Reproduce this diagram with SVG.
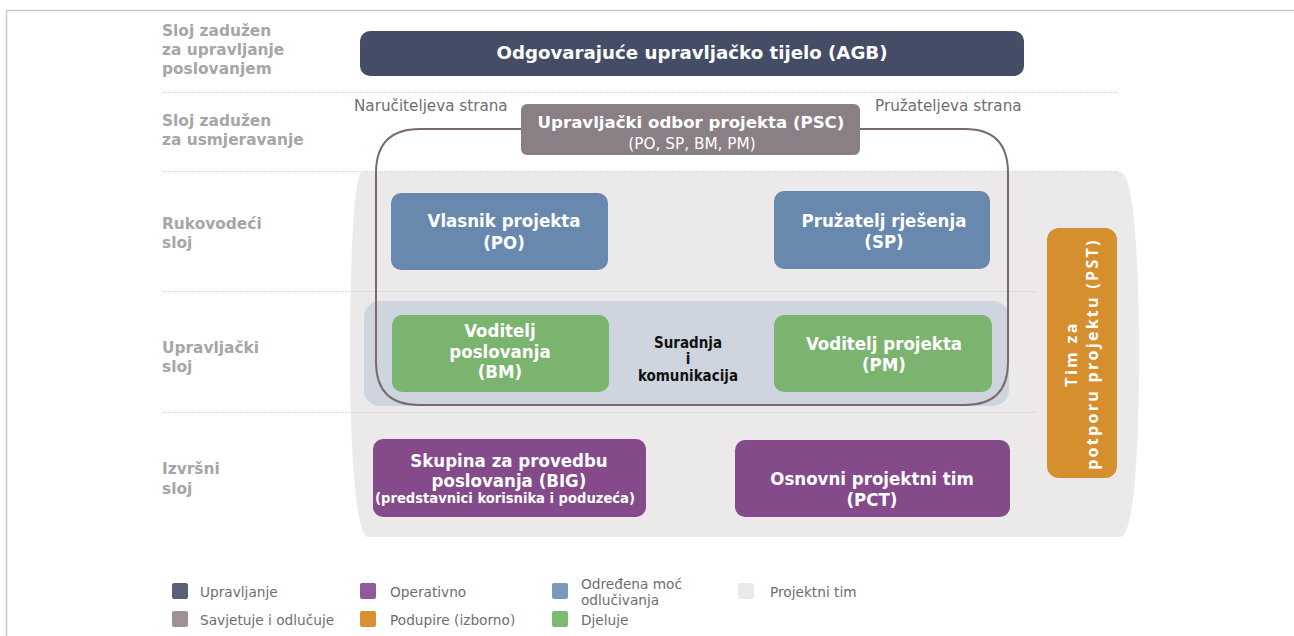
<svg xmlns="http://www.w3.org/2000/svg" width="1294" height="636" viewBox="0 0 1294 636">
  <style>
    .layer { font-family: "DejaVu Sans", Verdana, sans-serif; font-weight: bold; font-size: 15.4px; fill: #a6a6a6; }
    .sep { stroke: #d6d6d6; stroke-width: 1; stroke-dasharray: 2 1; fill: none; }
    .side { font-family: "DejaVu Sans", Verdana, sans-serif; font-size: 15.2px; fill: #6e6e6e; }
    .nt { font-family: "DejaVu Sans Condensed", "DejaVu Sans", sans-serif; font-weight: bold; font-size: 18.5px; fill: #ffffff; text-anchor: middle; }
    .small { font-size: 14.6px; }
    .cc { fill: #111111; font-size: 15px; }
    .vt { font-family: "Open Sans", sans-serif; font-size: 16px; letter-spacing: 2.3px; }
    .leg { font-family: "DejaVu Sans", Verdana, sans-serif; font-size: 13.7px; fill: #6e6e6e; }
    .gov { fill: #454c66; }
    .adv { fill: #8b7f86; }
    .dec { fill: #6889ad; }
    .act { fill: #7bb46e; }
    .ops { fill: #844a8a; }
    .sup { fill: #d68f2f; }
  </style>

  <!-- page frame -->
  <rect x="6.5" y="10.5" width="1300" height="700" fill="#ffffff" stroke="#c8c8c8" stroke-width="1.5"/>

  <!-- project team backdrop -->
  <path d="M 362 172 H 1120 C 1134 172 1139 260 1139 355 C 1139 450 1134 537 1120 537 H 368 C 356 537 350 450 350 355 C 350 260 354 172 362 172 Z" fill="#ebe9ea"/>

  <!-- layer separators -->
  <g id="separators">
    <line class="sep" x1="162" y1="92.5" x2="1118" y2="92.5"/>
    <line class="sep" x1="162" y1="171.5" x2="1118" y2="171.5"/>
    <line class="sep" x1="162" y1="291.5" x2="1036" y2="291.5"/>
    <line class="sep" x1="162" y1="412.5" x2="1036" y2="412.5"/>
  </g>

  <!-- layer names -->
  <g id="layers">
    <text class="layer" x="162" y="36">Sloj zadužen</text>
    <text class="layer" x="162" y="55">za upravljanje</text>
    <text class="layer" x="162" y="74">poslovanjem</text>
    <text class="layer" x="162" y="126">Sloj zadužen</text>
    <text class="layer" x="162" y="145">za usmjeravanje</text>
    <text class="layer" x="162" y="229">Rukovodeći</text>
    <text class="layer" x="162" y="248">sloj</text>
    <text class="layer" x="162" y="353">Upravljački</text>
    <text class="layer" x="162" y="372">sloj</text>
    <text class="layer" x="162" y="474">Izvršni</text>
    <text class="layer" x="162" y="494">sloj</text>
  </g>

  <!-- collaboration band -->
  <rect x="364" y="301" width="645" height="105" rx="16" fill="#cfd5df"/>

  <!-- steering committee outline -->
  <g id="connectors">
    <path d="M 521 129 H 420 Q 376 129 376 173 V 362 Q 376 405 419 405 H 965 Q 1008 405 1008 362 V 173 Q 1008 129 965 129 H 860" fill="none" stroke="#7a6a70" stroke-width="2"/>
  </g>

  <text class="side" x="354" y="111">Naručiteljeva strana</text>
  <text class="side" x="875" y="111">Pružateljeva strana</text>

  <g id="agb">
    <rect class="gov" x="360" y="31" width="664" height="45" rx="10"/>
    <text class="nt" x="692" y="59" style="font-family:'DejaVu Sans',sans-serif;font-size:18.2px">Odgovarajuće upravljačko tijelo (AGB)</text>
  </g>

  <g id="psc">
    <rect class="adv" x="521" y="104" width="339" height="51" rx="6"/>
    <text class="nt" x="691" y="128" style="font-family:'DejaVu Sans',sans-serif;font-size:16.6px">Upravljački odbor projekta (PSC)</text>
    <text class="nt" x="692" y="149" style="font-family:'DejaVu Sans',sans-serif;font-weight:normal;font-size:15.3px">(PO, SP, BM, PM)</text>
  </g>

  <g id="po">
    <rect class="dec" x="391" y="193" width="217" height="77" rx="10"/>
    <text class="nt" x="504" y="227">Vlasnik projekta</text>
    <text class="nt" x="504" y="249">(PO)</text>
  </g>

  <g id="sp">
    <rect class="dec" x="774" y="191" width="216" height="78" rx="10"/>
    <text class="nt" x="884" y="227">Pružatelj rješenja</text>
    <text class="nt" x="884" y="248">(SP)</text>
  </g>

  <g id="bm">
    <rect class="act" x="392" y="315" width="217" height="77" rx="10"/>
    <text class="nt" x="500" y="337">Voditelj</text>
    <text class="nt" x="500" y="358">poslovanja</text>
    <text class="nt" x="500" y="378">(BM)</text>
  </g>

  <g id="pm">
    <rect class="act" x="774" y="315" width="218" height="77" rx="10"/>
    <text class="nt" x="884" y="350">Voditelj projekta</text>
    <text class="nt" x="884" y="371">(PM)</text>
  </g>

  <g id="collab">
    <text class="nt cc" x="688" y="348">Suradnja</text>
    <text class="nt cc" x="688" y="364">i</text>
    <text class="nt cc" x="688" y="381">komunikacija</text>
  </g>

  <g id="big">
    <rect class="ops" x="373" y="439" width="273" height="78" rx="10"/>
    <text class="nt" x="509" y="467">Skupina za provedbu</text>
    <text class="nt" x="509" y="487">poslovanja (BIG)</text>
    <text class="nt small" x="505" y="503">(predstavnici korisnika i poduzeća)</text>
  </g>

  <g id="pct">
    <rect class="ops" x="735" y="440" width="275" height="77" rx="10"/>
    <text class="nt" x="872" y="485">Osnovni projektni tim</text>
    <text class="nt" x="872" y="506">(PCT)</text>
  </g>

  <g id="pst">
    <rect class="sup" x="1047" y="228" width="70" height="250" rx="12"/>
    <text class="nt vt" transform="translate(1077 354) rotate(-90)">Tim za</text>
    <text class="nt vt" transform="translate(1098 354) rotate(-90)">potporu projektu (PST)</text>
  </g>

  <!-- legend -->
  <g id="legend">
    <rect x="172" y="583" width="16" height="16" rx="2" fill="#5a6075"/>
    <text class="leg" x="200" y="597">Upravljanje</text>
    <rect x="172" y="611" width="16" height="16" rx="2" fill="#9e9196"/>
    <text class="leg" x="200" y="625">Savjetuje i odlučuje</text>
    <rect x="360" y="583" width="16" height="16" rx="2" fill="#8e5a9a"/>
    <text class="leg" x="390" y="597">Operativno</text>
    <rect x="360" y="611" width="16" height="16" rx="2" fill="#d89030"/>
    <text class="leg" x="390" y="625">Podupire (izborno)</text>
    <rect x="552" y="583" width="16" height="16" rx="2" fill="#7a9aba"/>
    <text class="leg" x="581" y="589">Određena moć</text>
    <text class="leg" x="581" y="605">odlučivanja</text>
    <rect x="552" y="611" width="16" height="16" rx="2" fill="#7cbb70"/>
    <text class="leg" x="581" y="625">Djeluje</text>
    <rect x="738" y="583" width="16" height="16" rx="2" fill="#ebe9ea"/>
    <text class="leg" x="770" y="597">Projektni tim</text>
  </g>
</svg>
